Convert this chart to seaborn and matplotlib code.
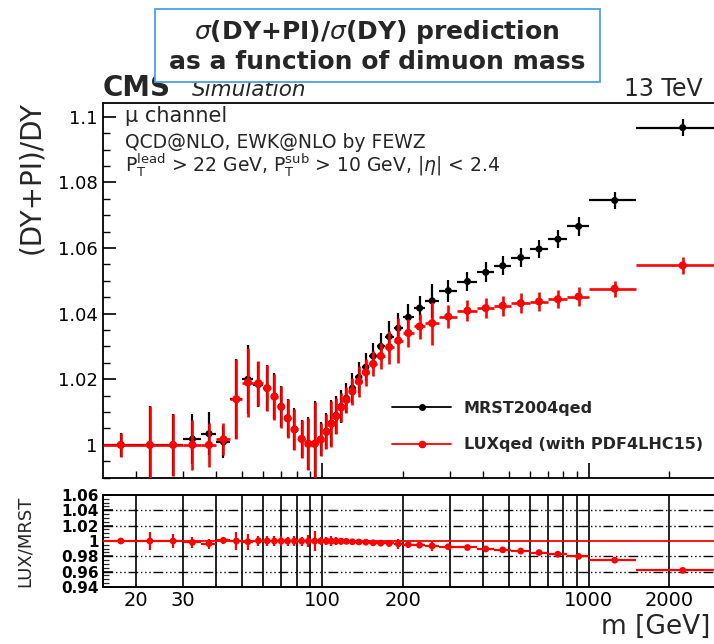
import numpy as np
import pandas as pd
import matplotlib
matplotlib.use("Agg")
import matplotlib.pyplot as plt
import seaborn as sns
from matplotlib.ticker import FixedLocator, MultipleLocator, FuncFormatter, NullFormatter, FixedFormatter
from matplotlib.lines import Line2D
from matplotlib.patches import Rectangle

# ---------------- data ----------------
bin_edges = [15, 20, 25, 30, 35, 40, 45, 50, 55, 60, 64, 68, 72, 76, 81, 86, 91, 96,
             101, 106, 110, 115, 120, 126, 133, 141, 150, 160, 171, 185, 200, 220,
             243, 273, 320, 380, 440, 510, 600, 700, 830, 1000, 1500, 3000]

mrst_ratio = [1.0000, 1.0000, 1.0000, 1.0018, 1.0034, 1.0009, 1.0140, 1.0200, 1.0184,
              1.0172, 1.0148, 1.0117, 1.0082, 1.0048, 1.0019, 1.0004, 1.0004, 1.0017,
              1.0041, 1.0066, 1.0090, 1.0117, 1.0142, 1.0173, 1.0206, 1.0237, 1.0271,
              1.0300, 1.0330, 1.0356, 1.0389, 1.0417, 1.0439, 1.0470, 1.0498, 1.0526,
              1.0546, 1.0571, 1.0597, 1.0627, 1.0666, 1.0745, 1.0967]
mrst_err = [0.0037, 0.0120, 0.0095, 0.0076, 0.0066, 0.0049, 0.0122, 0.0105, 0.0069,
            0.0070, 0.0070, 0.0063, 0.0059, 0.0063, 0.0058, 0.0080, 0.0130, 0.0052,
            0.0055, 0.0070, 0.0058, 0.0050, 0.0046, 0.0045, 0.0048, 0.0042, 0.0040,
            0.0042, 0.0048, 0.0045, 0.0040, 0.0036, 0.0052, 0.0034, 0.0030, 0.0030,
            0.0029, 0.0029, 0.0028, 0.0028, 0.0028, 0.0025, 0.0025]

lux_ratio = [1.0000, 1.0000, 1.0000, 1.0000, 1.0000, 1.0017, 1.0139, 1.0190, 1.0188,
             1.0173, 1.0147, 1.0116, 1.0081, 1.0047, 1.0018, 1.0003, 1.0003, 1.0016,
             1.0040, 1.0064, 1.0087, 1.0114, 1.0137, 1.0163, 1.0193, 1.0221, 1.0247,
             1.0271, 1.0298, 1.0318, 1.0341, 1.0361, 1.0371, 1.0391, 1.0409, 1.0417,
             1.0424, 1.0432, 1.0437, 1.0444, 1.0452, 1.0476, 1.0547]
lux_err = [0.0037, 0.0119, 0.0095, 0.0076, 0.0066, 0.0049, 0.0122, 0.0105, 0.0069,
           0.0070, 0.0070, 0.0063, 0.0059, 0.0063, 0.0058, 0.0080, 0.0127, 0.0051,
           0.0053, 0.0069, 0.0055, 0.0045, 0.0040, 0.0040, 0.0046, 0.0040, 0.0038,
           0.0040, 0.0050, 0.0068, 0.0042, 0.0038, 0.0066, 0.0036, 0.0032, 0.0030,
           0.0030, 0.0030, 0.0028, 0.0028, 0.0028, 0.0025, 0.0025]

series_labels = ["MRST2004qed", "LUXqed (with PDF4LHC15)"]
y_ticks_top = [1.0, 1.02, 1.04, 1.06, 1.08, 1.1]
y_ticks_bot = [0.94, 0.96, 0.98, 1.0, 1.02, 1.04, 1.06]
x_grid_ticks = [20, 30, 40, 50, 60, 70, 80, 90, 100, 200, 300, 400, 500, 600, 700, 800, 900, 1000, 2000]
x_labeled = [20, 30, 100, 200, 1000, 2000]

# derived quantities
edges = np.array(bin_edges, dtype=float)
centers = 0.5 * (edges[:-1] + edges[1:])
xlo = centers - edges[:-1]
xhi = edges[1:] - centers
mrst = np.array(mrst_ratio)
lux = np.array(lux_ratio)
ratio = lux / mrst
ratio_err = np.array(lux_err) / mrst

df = pd.DataFrame({"m": centers, "mrst": mrst, "lux": lux, "ratio": ratio})

# ---------------- style ----------------
sns.set_theme(style="ticks")
plt.rcParams["font.family"] = ["DejaVu Sans"]
plt.rcParams["mathtext.fontset"] = "dejavusans"
plt.rcParams["axes.linewidth"] = 1.3

W, H = 714, 644
fig = plt.figure(figsize=(W / 100, H / 100), dpi=100)
fig.patch.set_facecolor("white")


def frame(x0, ytop, x1, ybot):
    return [x0 / W, 1 - ybot / H, (x1 - x0) / W, (ybot - ytop) / H]


ax = fig.add_axes(frame(103, 102.7, 716, 477.7))
ax2 = fig.add_axes(frame(103, 495, 716, 587))

# ---------------- top panel ----------------
ax.errorbar(centers, mrst, xerr=[xlo, xhi], yerr=mrst_err, fmt="none",
            ecolor="black", elinewidth=1.6, capsize=0, zorder=2)
sns.scatterplot(data=df, x="m", y="mrst", color="black", s=26, edgecolor="none",
                ax=ax, zorder=3, legend=False)
ax.errorbar(centers, lux, xerr=[xlo, xhi], yerr=lux_err, fmt="none",
            ecolor="#ff0000", elinewidth=1.9, capsize=0, zorder=4)
sns.scatterplot(data=df, x="m", y="lux", color="#ff0000", s=34, edgecolor="none",
                ax=ax, zorder=5, legend=False)

ax.set_xscale("log")
ax.set_xlim(15, 3000)
ax.set_ylim(0.990, 1.1043)
ax.set_xlabel("")
ax.set_ylabel("")
ax.xaxis.set_major_locator(FixedLocator([100, 1000]))
ax.xaxis.set_minor_locator(FixedLocator([20, 30, 40, 50, 60, 70, 80, 90, 200, 300, 400,
                                         500, 600, 700, 800, 900, 2000, 3000]))
ax.xaxis.set_major_formatter(NullFormatter())
ax.xaxis.set_minor_formatter(NullFormatter())
ax.yaxis.set_major_locator(FixedLocator(y_ticks_top))
ax.yaxis.set_minor_locator(MultipleLocator(0.005))
ax.yaxis.set_major_formatter(FuncFormatter(lambda v, p: f"{v:g}"))
ax.tick_params(axis="both", which="both", direction="in", top=False, right=False, colors="black")
ax.tick_params(axis="y", which="major", length=9, width=1.2, labelsize=13, pad=4)
ax.tick_params(axis="y", which="minor", length=5, width=1.0)
ax.tick_params(axis="x", which="major", length=11, width=1.2)
ax.tick_params(axis="x", which="minor", length=5, width=1.0)
for s in ax.spines.values():
    s.set_color("black")
    s.set_linewidth(1.3)

handles = [Line2D([], [], color="black", marker="o", markersize=4, lw=1.3),
           Line2D([], [], color="#ff0000", marker="o", markersize=4.5, lw=1.3)]
ax.legend(handles, series_labels, loc="upper left", bbox_to_anchor=(0.4715, 0.205),
          frameon=False, prop={"weight": "bold", "size": 11.5}, handlelength=3.7,
          handletextpad=0.8, labelspacing=1.35, borderpad=0, borderaxespad=0)

# ---------------- ratio panel ----------------
ax2.axhline(1.0, color="#ff0000", lw=1.3, zorder=2)
for yv in [0.96, 0.98, 1.02, 1.04]:
    ax2.axhline(yv, color="black", lw=1.0, ls=(0, (7, 2, 1, 2, 1, 2, 1, 2)), zorder=1)
ax2.errorbar(centers, ratio, xerr=[xlo, xhi], yerr=ratio_err, fmt="none",
             ecolor="#ff0000", elinewidth=1.6, capsize=0, zorder=3)
sns.scatterplot(data=df, x="m", y="ratio", color="#ff0000", s=24, edgecolor="none",
                ax=ax2, zorder=4, legend=False)
ax2.set_xscale("log")
ax2.set_xlim(15, 3000)
ax2.set_ylim(0.94, 1.06)
ax2.set_xlabel("")
ax2.set_ylabel("")
ax2.xaxis.set_major_locator(FixedLocator(x_grid_ticks))
ax2.xaxis.set_major_formatter(FixedFormatter([str(t) if t in x_labeled else "" for t in x_grid_ticks]))
ax2.xaxis.set_minor_locator(FixedLocator([]))
ax2.yaxis.set_major_locator(FixedLocator(y_ticks_bot))
ax2.yaxis.set_minor_locator(MultipleLocator(0.005))
ax2.yaxis.set_major_formatter(FuncFormatter(lambda v, p: f"{v:g}"))
ax2.grid(axis="x", which="major", color="black", lw=1.2, ls="-")
ax2.tick_params(axis="x", which="major", length=0, labelsize=14, pad=3, colors="black")
ax2.tick_params(axis="y", which="major", direction="in", length=7, width=1.1, pad=3, colors="black")
ax2.tick_params(axis="y", which="minor", direction="in", length=4, width=0.9)
for lab in ax2.get_yticklabels():
    lab.set_fontsize(11)
    lab.set_fontweight("bold")
for s in ax2.spines.values():
    s.set_color("black")
    s.set_linewidth(1.4)

# ---------------- text ----------------
fig.text(103 / W, 1 - 96 / H, "CMS", fontsize=20, fontweight="bold", va="baseline", ha="left")
fig.text(192 / W, 1 - 96 / H, "Simulation", fontsize=15.5, style="italic", va="baseline", ha="left")
fig.text(703 / W, 1 - 96 / H, "13 TeV", fontsize=17, va="baseline", ha="right")

fig.text(125 / W, 1 - 122.5 / H, "\u03bc channel", fontsize=15, va="baseline", ha="left")
fig.text(125 / W, 1 - 148 / H, "QCD@NLO, EWK@NLO by FEWZ", fontsize=13.5, va="baseline", ha="left")
fig.text(125 / W, 1 - 172 / H,
         r"P$_{\mathrm{T}}^{\mathrm{lead}}$ > 22 GeV, P$_{\mathrm{T}}^{\mathrm{sub}}$ > 10 GeV, |$\eta$| < 2.4",
         fontsize=13.5, va="baseline", ha="left")

fig.text(31 / W, 1 - 178 / H, "(DY+PI)/DY", rotation=90, fontsize=20, ha="center", va="center")
fig.text(25 / W, 1 - 541 / H, "LUX/MRST", rotation=90, fontsize=13, ha="center", va="center")
fig.text(710 / W, 1 - 634 / H, "m [GeV]", fontsize=19, ha="right", va="baseline")

rect = Rectangle((155 / W, 1 - 82 / H), 445 / W, 73 / H, transform=fig.transFigure,
                 facecolor="white", edgecolor="#4d9fea", lw=1.3, zorder=10)
fig.patches.append(rect)
fig.text(377 / W, 1 - 32 / H, r"$\sigma$(DY+PI)/$\sigma$(DY) prediction", fontsize=18,
         fontweight="bold", ha="center", va="center", zorder=11)
fig.text(377 / W, 1 - 62 / H, "as a function of dimuon mass", fontsize=18,
         fontweight="bold", ha="center", va="center", zorder=11)

fig.savefig("out.png", dpi=100, facecolor="white")
